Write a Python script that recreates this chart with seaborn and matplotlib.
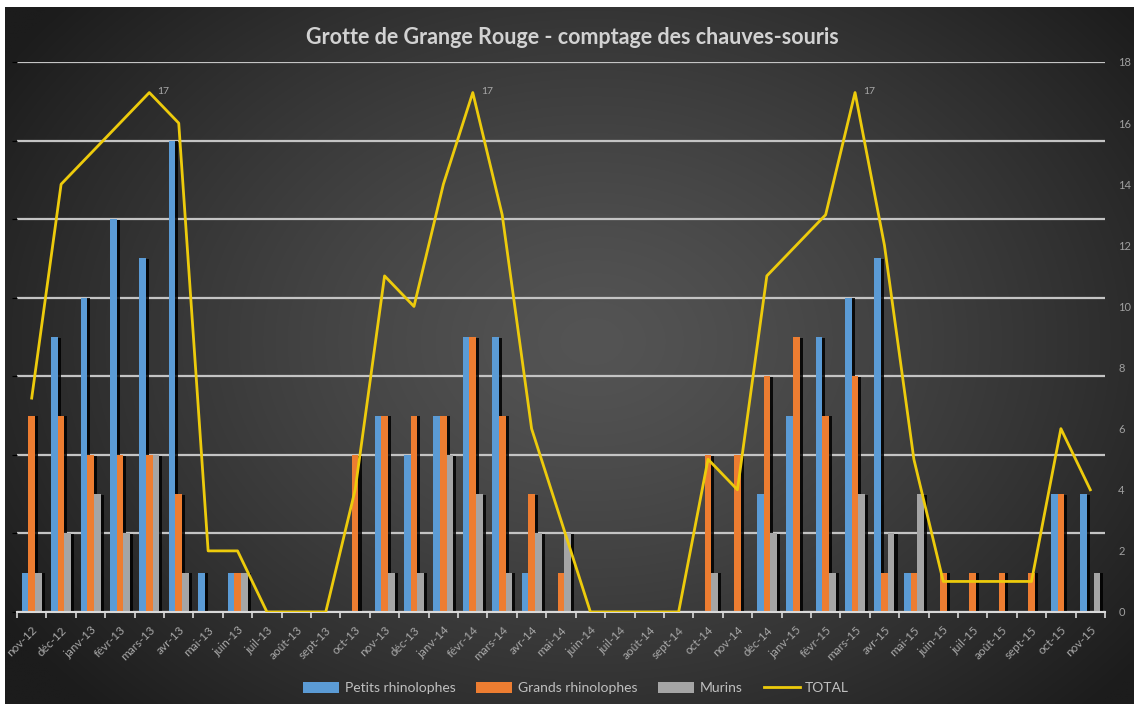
import numpy as np
import pandas as pd
import matplotlib
matplotlib.use("Agg")
import matplotlib.pyplot as plt
import matplotlib.patheffects as pe
from matplotlib.patches import Patch
from matplotlib.lines import Line2D
import seaborn as sns

months = ["nov-12", "déc-12", "janv-13", "févr-13", "mars-13", "avr-13", "mai-13", "juin-13",
          "juil-13", "août-13", "sept-13", "oct-13", "nov-13", "déc-13", "janv-14", "févr-14",
          "mars-14", "avr-14", "mai-14", "juin-14", "juil-14", "août-14", "sept-14", "oct-14",
          "nov-14", "déc-14", "janv-15", "févr-15", "mars-15", "avr-15", "mai-15", "juin-15",
          "juil-15", "août-15", "sept-15", "oct-15", "nov-15"]
petits = [1, 7, 8, 10, 9, 12, 1, 1, 0, 0, 0, 0, 5, 4, 5, 7, 7, 1, 0, 0, 0, 0, 0, 0, 0,
          3, 5, 7, 8, 9, 1, 0, 0, 0, 0, 3, 3]
grands = [5, 5, 4, 4, 4, 3, 0, 1, 0, 0, 0, 4, 5, 5, 5, 7, 5, 3, 1, 0, 0, 0, 0, 4, 4,
          6, 7, 5, 6, 1, 1, 1, 1, 1, 1, 3, 0]
murins = [1, 2, 3, 2, 4, 1, 0, 1, 0, 0, 0, 0, 1, 1, 4, 3, 1, 2, 2, 0, 0, 0, 0, 1, 0,
          2, 0, 1, 3, 2, 3, 0, 0, 0, 0, 0, 1]
total = [7, 14, 15, 16, 17, 16, 2, 2, 0, 0, 0, 4, 11, 10, 14, 17, 13, 6, 3, 0, 0, 0, 0, 5, 4,
         11, 12, 13, 17, 12, 5, 1, 1, 1, 1, 6, 4]
series = ["Petits rhinolophes", "Grands rhinolophes", "Murins"]
colors = ["#5B9BD5", "#ED7D31", "#A5A5A5"]
line_color = "#EDCB0C"
title = "Grotte de Grange Rouge - comptage des chauves-souris"

W, H = 1134, 704
fig = plt.figure(figsize=(W / 100, H / 100), dpi=100, facecolor="white")
plt.rcParams["font.family"] = ["Lato", "DejaVu Sans"]

# background radial gradient
bg = fig.add_axes([5 / W, 0, 1 - 5 / W, 1 - 7 / H])
yy, xx = np.mgrid[0:1:400j, 0:1:600j]
r = np.sqrt(((xx - 0.52) / 0.62) ** 2 + ((yy - 0.48) / 0.75) ** 2)
r = np.clip(r, 0, 1)
val = (0x54 - (0x54 - 0x1c) * r ** 1.3) / 255.0
img = np.dstack([val, val, val])
bg.imshow(img, aspect="auto", extent=(0, 1, 0, 1), interpolation="bilinear")
bg.axis("off")
bg.set_zorder(-10)

ax = fig.add_axes([17 / W, 1 - 612 / H, (1105 - 17) / W, 550 / H])
ax.set_facecolor("none")

df = pd.DataFrame({
    "mois": months * 3,
    "espece": [s for s in series for _ in months],
    "valeur": petits + grands + murins,
})
sns.barplot(data=df, x="mois", y="valeur", hue="espece", order=months, hue_order=series,
            palette=colors, saturation=1, width=0.68, ax=ax, legend=False)
for p in ax.patches:
    p.set_linewidth(0)
    p.set_path_effects([pe.SimplePatchShadow(offset=(2.2, -0.5), shadow_rgbFace="black", alpha=0.85),
                        pe.Normal()])

ax.set_ylim(0, 14)
ax.set_yticks(np.arange(0, 15, 2))
ax.set_xlim(-0.5, len(months) - 0.5)
ax.grid(axis="y", color="#c4c4c4", lw=1.6)
ax.grid(axis="x", visible=False)
ax.set_axisbelow(True)
ax.tick_params(axis="y", left=False, labelleft=False)
ax.set_xlabel("")
ax.set_ylabel("")
for s in ["top", "left", "right"]:
    ax.spines[s].set_visible(False)
ax.spines["bottom"].set_color("#d9d9d9")
ax.spines["bottom"].set_linewidth(1.5)
ax.set_xticks(np.arange(len(months)))
ax.set_xticklabels(months, rotation=45, ha="right", rotation_mode="anchor",
                   color="#a8a8a8", fontsize=8.5)
ax.tick_params(axis="x", which="major", length=0, pad=9)
ax.set_xticks(np.arange(-0.5, len(months)), minor=True)
ax.tick_params(axis="x", which="minor", length=4, color="#d9d9d9", width=1.2)

ax2 = ax.twinx()
ax2.set_facecolor("none")
sns.lineplot(x=np.arange(len(months)), y=total, ax=ax2, color=line_color, lw=2)
ax2.set_ylim(0, 18)
ax2.set_yticks(np.arange(0, 19, 2))
ax2.tick_params(axis="y", right=False, labelright=True, labelcolor="#a0a0a0",
                labelsize=8, pad=6)
ax2.set_xlim(-0.5, len(months) - 0.5)
for s in ax2.spines.values():
    s.set_visible(False)
ax2.grid(False)
mx = max(total)
for i, v in enumerate(total):
    if v == mx:
        ax2.annotate(str(v), (i, v), xytext=(6, 1), textcoords="offset points",
                     color="#a8a8a8", fontsize=7.5, ha="left", va="center")

fig.text(572 / W, 1 - 38 / H, title, ha="center", va="center", fontsize=15.5,
         fontweight="bold", color="#d2d2d2")

handles = [Patch(facecolor=c, edgecolor="none") for c in colors] + \
          [Line2D([0], [0], color=line_color, lw=2)]
fig.legend(handles, series + ["TOTAL"], loc="center", bbox_to_anchor=(576 / W, 1 - 688 / H),
           ncol=4, frameon=False, fontsize=10, labelcolor="#c0c0c0", handlelength=2.6,
           handleheight=0.9, columnspacing=1.5, handletextpad=0.4)

fig.savefig("out.png", dpi=100, facecolor="white")
